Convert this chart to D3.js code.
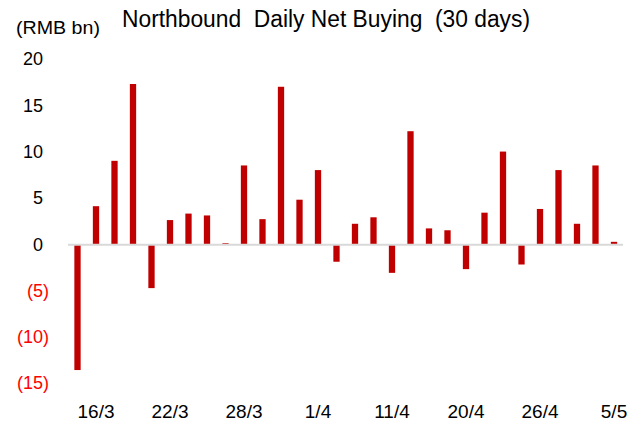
<!DOCTYPE html>
<html>
<head>
<meta charset="utf-8">
<script src="https://cdn.jsdelivr.net/npm/d3@7"></script>
<style>
	body { margin: 0; background: #fff; }
	text { font-family: "Liberation Sans", Arial, sans-serif; }
</style>
</head>
<body>
<svg id="chart" width="643" height="424"></svg>
<script>
// 30 trading days
const dates = [
	"15/3", "16/3", "17/3", "18/3", "21/3", "22/3", "23/3", "24/3", "25/3", "28/3",
	"29/3", "30/3", "31/3", "1/4", "6/4", "7/4", "8/4", "11/4", "12/4", "13/4",
	"19/4", "20/4", "21/4", "22/4", "25/4", "26/4", "27/4", "28/4", "29/4", "5/5",
];
const netBuying = [
	-13.6, 4.1, 9.0, 17.3, -4.75, 2.6, 3.3, 3.1, 0.1, 8.5,
	2.7, 17.0, 4.8, 8.0, -1.9, 2.2, 2.9, -3.1, 12.2, 1.7,
	1.5, -2.7, 3.4, 10.0, -2.2, 3.8, 8.0, 2.2, 8.5, 0.25,
];
const yTicks = [20, 15, 10, 5, 0, -5, -10, -15];
const xTickLabels = ["16/3", "22/3", "28/3", "1/4", "11/4", "20/4", "26/4", "5/5"];

const svg = d3.select("#chart");

const x = d3.scaleBand()
	.domain(dates)
	.range([68.25, 623.25])
	.paddingInner(0.66)
	.paddingOuter(0.33);

const y = d3.scaleLinear().domain([-15, 20]).range([383, 59]);

// Title + unit
svg.append("text")
	.attr("x", 122)
	.attr("y", 27)
	.attr("font-size", 23)
	.attr("textLength", 408)
	.attr("lengthAdjust", "spacingAndGlyphs")
	.style("white-space", "pre")
	.attr("fill", "#000")
	.text("Northbound  Daily Net Buying  (30 days)");

svg.append("text")
	.attr("x", 16)
	.attr("y", 34)
	.attr("font-size", 19)
	.attr("textLength", 84)
	.attr("lengthAdjust", "spacingAndGlyphs")
	.attr("fill", "#000")
	.text("(RMB bn)");

// Y tick labels: negatives in red brackets
svg.append("g")
	.selectAll("text")
	.data(yTicks)
	.join("text")
	.attr("x", (d) => (d < 0 ? 49 : 43))
	.attr("y", (d) => y(d))
	.attr("dy", "0.36em")
	.attr("text-anchor", "end")
	.attr("font-size", 18)
	.attr("fill", (d) => (d < 0 ? "#ff0000" : "#000"))
	.text((d) => (d < 0 ? `(${-d})` : d));

// Bars
svg.append("g")
	.selectAll("rect")
	.data(netBuying)
	.join("rect")
	.attr("x", (d, i) => x(dates[i]))
	.attr("width", x.bandwidth())
	.attr("y", (d) => y(Math.max(0, d)))
	.attr("height", (d) => Math.abs(y(d) - y(0)))
	.attr("fill", "#c00000");

// Zero line
svg.append("line")
	.attr("x1", 68)
	.attr("x2", 623)
	.attr("y1", y(0) + 0.5)
	.attr("y2", y(0) + 0.5)
	.attr("stroke", "#d9d9d9")
	.attr("stroke-width", 2);

// X tick labels
svg.append("g")
	.selectAll("text")
	.data(xTickLabels)
	.join("text")
	.attr("x", (d) => x(d) + x.bandwidth() / 2)
	.attr("y", 418)
	.attr("text-anchor", "middle")
	.attr("font-size", 19)
	.attr("fill", "#000")
	.text((d) => d);
</script>
</body>
</html>
